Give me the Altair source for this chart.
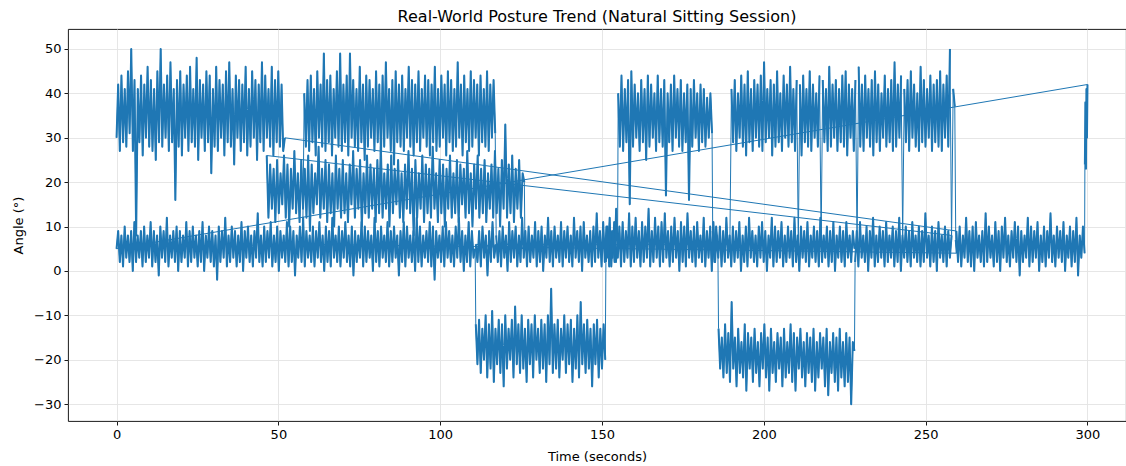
import altair as alt
import numpy as np
import pandas as pd

# ---- data (low/high swings of the noisy signal, ~2 samples per s) ----
# slouch 0-52 s
slouch_a = [
    30,42,27,44,29,41,28,45,31,50,27,43,8,41,29,44,26,42,30,46,
    28,43,27,41,25,45,29,50,28,42,30,44,27,47,29,41,16,43,28,45,
    26,42,30,44,27,46,29,41,28,48,25,43,30,42,27,45,29,44,22,41,
    28,46,27,43,30,42,26,45,29,47,28,41,24,44,30,43,27,42,29,46,
    26,41,28,45,30,43,25,42,29,47,27,44,30,41,28,46,26,43,29,45,
    28,42,27,30,
]
# upright 259.5-299.1 s
upright_end = [
    9,2,10,1,8,3,12,2,9,1,10,0,11,3,8,2,9,1,13,2,
    10,3,8,1,11,2,9,0,10,3,12,2,8,1,9,3,11,2,10,-1,
    9,2,8,3,12,1,10,2,9,3,11,0,8,2,10,1,9,3,13,2,
    8,1,10,3,9,2,11,0,8,3,10,1,9,2,12,-1,8,3,10,4,
]
# slouch burst at the very end 299.2-300 s
slouch_end = [24,38,23,41,30,42]
# upright 0-110.8 s
upright_1 = [
    5,9,2,8,1,10,3,8,2,9,0,11,2,8,3,9,1,10,2,8,
    3,11,1,9,2,8,-1,10,3,9,2,12,1,8,3,9,2,10,0,9,
    2,8,3,11,1,9,2,10,3,8,1,9,2,11,0,8,3,10,2,9,
    1,8,-2,10,2,9,3,12,1,8,2,10,3,9,1,8,2,11,0,9,
    3,10,2,8,1,9,3,13,2,8,1,10,2,9,3,11,1,8,2,10,
    0,9,3,8,2,11,1,10,2,9,-1,8,3,10,2,12,1,9,3,8,
    2,10,1,9,3,11,2,8,0,10,2,9,1,12,3,8,2,10,1,9,
    3,11,2,8,1,10,-1,9,2,8,3,11,1,10,2,9,3,8,0,12,
    2,9,1,10,3,8,2,11,1,9,2,10,3,8,-1,9,2,11,1,10,
    3,8,2,9,0,12,2,10,1,8,3,9,2,11,1,10,-2,9,3,8,
    2,10,1,11,3,9,2,8,1,10,3,12,2,9,0,8,2,11,1,9,
    3,5,
]
# lean back 111-151 s
lean_d = [
    -12,-21,-11,-23,-13,-20,-10,-24,-12,-22,-9,-25,-13,-21,-11,-23,-12,-26,-10,-22,
    -13,-20,-11,-24,-8,-21,-12,-23,-10,-22,-13,-25,-11,-21,-12,-24,-10,-20,-13,-23,
    -11,-22,-12,-25,-10,-21,-4,-23,-12,-22,-11,-24,-13,-20,-10,-23,-12,-21,-11,-25,
    -13,-22,-10,-24,-7,-21,-12,-23,-11,-22,-13,-26,-12,-21,-11,-24,-13,-22,-12,-20,
]
upright_2 = [2,10,1,9,3,11,2,6]
# slouch 155-184 s
slouch_e = [
    40,28,44,27,41,29,43,15,45,28,42,30,40,27,43,29,41,25,44,28,
    42,30,40,27,44,29,41,28,43,17,40,29,42,27,44,30,41,28,43,27,
    40,29,42,16,41,28,43,30,40,27,42,29,41,28,39,30,40,31,
]
upright_3 = [9,2,10,5]
# lean back 186-228 s
lean_g = [
    -13,-22,-15,-24,-12,-23,-14,-25,-7,-22,-15,-26,-13,-23,-16,-24,-12,-27,-14,-22,
    -15,-25,-13,-23,-16,-26,-14,-22,-12,-24,-15,-27,-13,-23,-16,-25,-14,-22,-15,-26,
    -13,-24,-16,-23,-12,-25,-14,-27,-15,-22,-13,-24,-16,-26,-14,-23,-15,-25,-13,-27,
    -16,-24,-14,-22,-15,-26,-13,-28,-16,-23,-14,-25,-15,-27,-13,-24,-16,-26,-14,-25,
    -15,-30,-16,-18,
]
# upright 228.2-258 s
upright_4 = [
    2,9,1,11,3,8,2,10,0,9,3,12,1,8,2,10,3,9,1,11,
    2,8,3,10,1,9,2,12,0,8,3,10,2,9,1,11,3,8,2,10,
    1,9,2,13,3,8,1,10,2,9,0,11,3,8,2,10,1,9,3,8,
]
# half slouch 46.4-126 s
mid_b = [
    26,12,24,14,23,11,25,13,22,15,26,12,24,10,23,14,27,13,22,11,
    25,14,23,12,26,9,24,13,22,15,28,12,23,14,25,11,24,13,22,10,
    26,14,23,12,25,13,22,11,24,15,27,12,23,14,25,10,22,13,26,12,
    24,14,23,11,25,13,28,12,22,14,24,10,26,13,23,15,25,12,22,11,
    24,14,27,13,23,8,25,12,22,14,26,11,24,13,23,12,28,14,22,11,
    25,13,24,10,23,14,26,12,22,13,25,11,24,15,23,12,27,13,22,10,
    24,14,26,12,23,13,25,11,22,14,24,12,27,13,23,10,25,14,33,12,
    24,13,26,11,23,14,25,12,22,20,
]
# upright 111-117.2 s (same recording as the half slouch)
upright_6 = [6,2,9,1,10,3,8,-1,9,2,11,3,6]
# slouch 190-259 s, with brief upright dips in between
slouch_f1 = [
    41,29,43,27,40,30,44,28,42,26,45,29,41,27,43,30,42,28,44,27,
    47,29,41,30,43,26,42,28,45,29,40,27,44,30,42,28,46,29,41,27,
    43,
]
slouch_f2 = [42,26,44,29,41,28,45,27,42,30,40,28,44]
slouch_f3 = [43,29,41,27,46,28,42,30,43,27,41,29,44,28,45,26,42,30,41,27,43]
slouch_f4 = [
    46,28,42,27,44,30,41,28,43,26,45,29,42,27,40,30,44,28,41,29,
    43,27,47,28,42,30,44,
]
slouch_f5 = [
    41,29,43,27,45,30,42,28,40,27,46,29,43,28,41,30,44,27,42,29,
    43,28,45,27,42,30,44,28,50,
]
slouch_f6 = [41,37]
dips_f = [6,7,6,8,7]
# slouch 58-117 s
slouch_c = [
    40,28,43,27,44,29,41,26,45,30,42,28,49,27,43,29,44,26,41,30,
    45,28,49,27,42,29,44,26,49,30,43,28,41,27,46,29,42,25,44,28,
    43,30,41,27,45,29,42,26,44,28,47,30,41,27,43,24,45,29,42,28,
    44,27,41,30,46,28,43,26,42,29,45,27,41,30,44,28,43,26,42,29,
    46,27,41,28,44,30,42,26,45,29,43,27,41,28,47,30,42,26,44,29,
    41,27,45,28,43,30,42,26,44,29,41,28,45,27,42,30,43,31,
]
# upright 117.3-228 s
upright_5 = [
    8,2,9,1,10,3,8,0,11,2,9,3,10,1,8,2,12,3,9,1,
    10,2,8,3,11,1,9,2,10,0,8,3,12,2,9,1,10,3,8,2,
    11,1,9,3,10,2,8,1,12,3,9,2,10,0,11,3,8,2,9,1,
    10,2,13,3,9,1,11,2,10,3,12,1,9,2,14,3,10,1,11,2,
    9,3,13,1,10,2,12,3,9,1,11,2,10,3,14,1,9,2,12,3,
    10,1,11,2,13,3,9,1,10,2,12,3,9,0,11,2,10,1,13,3,
    9,2,10,1,11,3,8,2,12,1,9,3,10,0,11,2,8,3,10,1,
    9,2,12,3,8,1,10,2,9,3,11,0,8,2,10,1,12,3,9,2,
    8,1,10,3,11,2,9,0,8,3,12,1,10,2,9,3,11,1,8,2,
    10,3,9,1,12,2,8,0,10,3,9,2,11,1,8,3,10,2,9,1,
    12,2,8,3,10,1,9,2,11,0,8,3,10,2,9,1,11,3,8,2,
    9,5,
]

# (start s, end s, values) in recorded order
segments = [
    (0.0, 52.0, slouch_a),
    (259.5, 299.1, upright_end),
    (299.2, 300.0, slouch_end),
    (0.0, 110.8, upright_1),
    (111.0, 151.0, lean_d),
    (151.2, 154.8, upright_2),
    (155.0, 184.0, slouch_e),
    (184.2, 185.8, upright_3),
    (186.0, 228.0, lean_g),
    (228.2, 258.0, upright_4),
    (46.4, 126.0, mid_b),
    (126.2, 126.2, [5]),
    (111.0, 117.2, upright_6),
    (189.5, 189.5, [6]),
    (190.0, 210.14, slouch_f1),
    (210.65, 210.65, dips_f[0:1]),
    (211.15, 217.2, slouch_f2),
    (217.7, 217.7, dips_f[1:2]),
    (218.2, 228.3, slouch_f3),
    (228.8, 228.8, dips_f[2:3]),
    (229.3, 242.4, slouch_f4),
    (242.9, 242.9, dips_f[3:4]),
    (243.4, 257.5, slouch_f5),
    (258.0, 258.0, dips_f[4:5]),
    (258.5, 259.0, slouch_f6),
    (259.3, 259.6, [7, 4]),
    (57.5, 57.5, [6]),
    (58.0, 117.0, slouch_c),
    (117.3, 228.0, upright_5),
]

rows = []
k = 0
for s, (t0, t1, vals) in enumerate(segments):
    ts = np.linspace(t0, t1, len(vals))
    for t, v in zip(ts, vals):
        rows.append({"i": k, "seg": s, "t": float(t), "v": float(v)})
        k += 1
df = pd.DataFrame(rows)

FONT = "DejaVu Sans"
BLUE = "#1f77b4"

x_enc = alt.X(
    "t:Q",
    title="Time (seconds)",
    scale=alt.Scale(domain=[-15, 311.9], nice=False, zero=False),
    axis=alt.Axis(values=[0, 50, 100, 150, 200, 250, 300], format="d"),
)
y_enc = alt.Y(
    "v:Q",
    title="Angle (°)",
    scale=alt.Scale(domain=[-33.8, 54.5], nice=False, zero=False),
    axis=alt.Axis(
        values=[-30, -20, -10, 0, 10, 20, 30, 40, 50],
        format="d",
        labelExpr="replace(datum.label, '-', '\u2212')",
    ),
)

base = alt.Chart(df)

# the whole recording as one continuous line (thin; shows the jumps between chunks)
full_line = base.mark_line(color=BLUE, strokeWidth=1.0, strokeJoin="round", clip=True).encode(
    x=x_enc, y=y_enc, order=alt.Order("i:Q")
)
# each chunk on its own (dense noise bands)
chunks = base.mark_line(color=BLUE, strokeWidth=2.0, strokeJoin="round", clip=True).encode(
    x=x_enc, y=y_enc, detail="seg:N", order=alt.Order("i:Q")
)

chart = (
    alt.layer(full_line, chunks)
    .properties(
        width=1058,
        height=392,
        autosize="none",
        padding={"left": 68, "top": 29, "right": 0, "bottom": 45},
        title=alt.TitleParams(
            "Real-World Posture Trend (Natural Sitting Session)",
            font=FONT,
            fontSize=16,
            fontWeight="normal",
            color="black",
            anchor="middle",
            offset=4,
        ),
    )
    .configure_view(stroke="black", strokeWidth=0.9)
    .configure_axis(
        labelFont=FONT,
        labelFontSize=13,
        labelColor="black",
        titleFont=FONT,
        titleFontSize=13,
        titleFontWeight="normal",
        titleColor="black",
        tickSize=4,
        tickColor="black",
        tickWidth=0.9,
        labelPadding=3,
        domain=False,
        grid=True,
        gridColor="#e3e3e3",
        gridWidth=0.9,
    )
    .configure_axisX(titlePadding=9)
    .configure_axisY(titlePadding=8)
)

chart.save("out.html", embed_options={"renderer": "svg", "actions": False})
